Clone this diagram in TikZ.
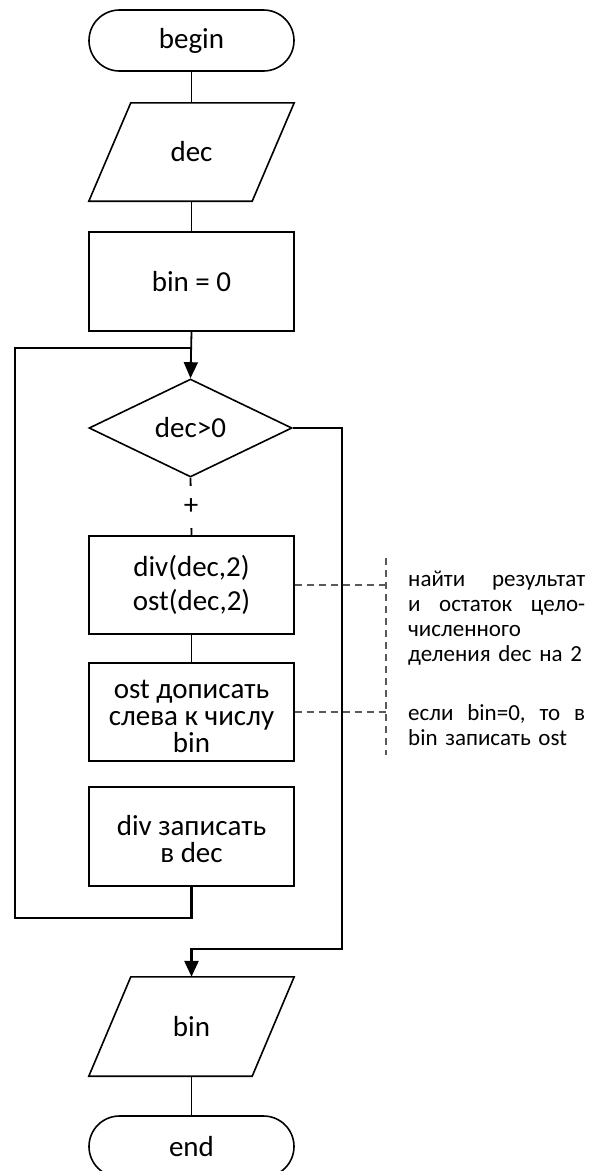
\documentclass[tikz,border=0pt]{standalone}
\usepackage{fontspec}
\setmainfont{Carlito}
\usetikzlibrary{arrows.meta,shapes.geometric,calc}
\begin{document}
\begin{tikzpicture}[x=1pt,y=-1pt,
  every node/.style={font=\fontsize{29}{34}\selectfont, inner sep=0pt},
  box/.style={draw, line width=1.6pt, minimum width=205pt, minimum height=98pt, align=center},
  term/.style={draw, line width=1.6pt, rectangle, rounded corners=30.5pt, minimum width=205pt, minimum height=61pt},
  iobox/.style={minimum width=205pt, minimum height=98pt},
  iopath/.style={line width=1.6pt, line join=miter},
  cond/.style={draw, diamond, line width=1.6pt, minimum width=203pt, minimum height=98pt, aspect=2.07},
  flow/.style={line width=1.8pt},
  loopline/.style={line width=2.6pt},
  arr/.style={-{Triangle[length=16pt,width=14pt]}},
  note/.style={dash pattern=on 7pt off 5pt, line width=1.1pt, draw=black!65},
  comment/.style={font=\fontsize{23}{25}\selectfont, text width=177pt, align=left, anchor=north west}
]
\path[use as bounding box, fill=white] (0,0) rectangle (601,1171);

% nodes
\node[term] (begin) at (191.5,40.5) {begin};
\node[iobox] (in) at (191.5,152) {dec};
\draw[iopath] (in.south west) -- ($(in.north west)+(42,0)$) -- (in.north east) -- ($(in.south east)+(-42,0)$) -- cycle;
\node[box, minimum height=99pt] (init) at (191.5,281.5) {bin = 0};
\node[cond] (test) at (190.5,428) {dec>0};
\node[box, font=\fontsize{29}{34}\selectfont] (divop) at (191.5,585) {div(dec,2)\\ost(dec,2)};
\node[box, font=\fontsize{29}{27}\selectfont] (ostop) at (191.5,712) {\rule{0pt}{28pt}ost дописать\\слева к числу\\bin};
\node[box, minimum height=99pt, font=\fontsize{29}{27}\selectfont] (divw) at (191.5,836.5) {\rule{0pt}{26pt}div записать\\в dec};
\node[iobox, minimum height=99pt] (out) at (191.5,1026.5) {bin};
\draw[iopath] (out.south west) -- ($(out.north west)+(42,0)$) -- (out.north east) -- ($(out.south east)+(-42,0)$) -- cycle;
\node[term] (end) at (191.5,1146.5) {end};

% coordinates
\coordinate (join) at (191.5,348);
\coordinate (loopBL) at (15,918);
\coordinate (exitR) at (342,949);
\coordinate (brkT) at (386,558);
\coordinate (brkB) at (386,755);

% connectors
\draw[flow] (begin.south) -- (in.north);
\draw[flow] (in.south) -- (init.north);
\draw[flow, arr] (init.south) -- (test.north);
\draw[flow] (test.south) -- node[fill=white, minimum height=42pt, minimum width=16pt] {+} (divop.north);
\draw[flow] (divop.south) -- (ostop.north);
\draw[loopline, line join=miter] (divw.south) |- (loopBL) |- (join);
\draw[loopline, arr, line join=miter] (test.east) -| (exitR) -| (out.north);
\draw[flow] (out.south) -- (end.north);

% comments
\draw[note] (brkT) -- (brkB);
\draw[note] (divop.east) -- (divop.east -| brkT);
\draw[note] (ostop.east) -- (ostop.east -| brkT);
\node[comment] (c1) at (408,571) {найти\hfill результат\\и\hfill остаток\hfill цело-\\численного\\деления dec на 2};
\node[comment] (c2) at (408,704) {если\hfill bin=0,\hfill то\hfill в\\bin записать ost};
\end{tikzpicture}
\end{document}
